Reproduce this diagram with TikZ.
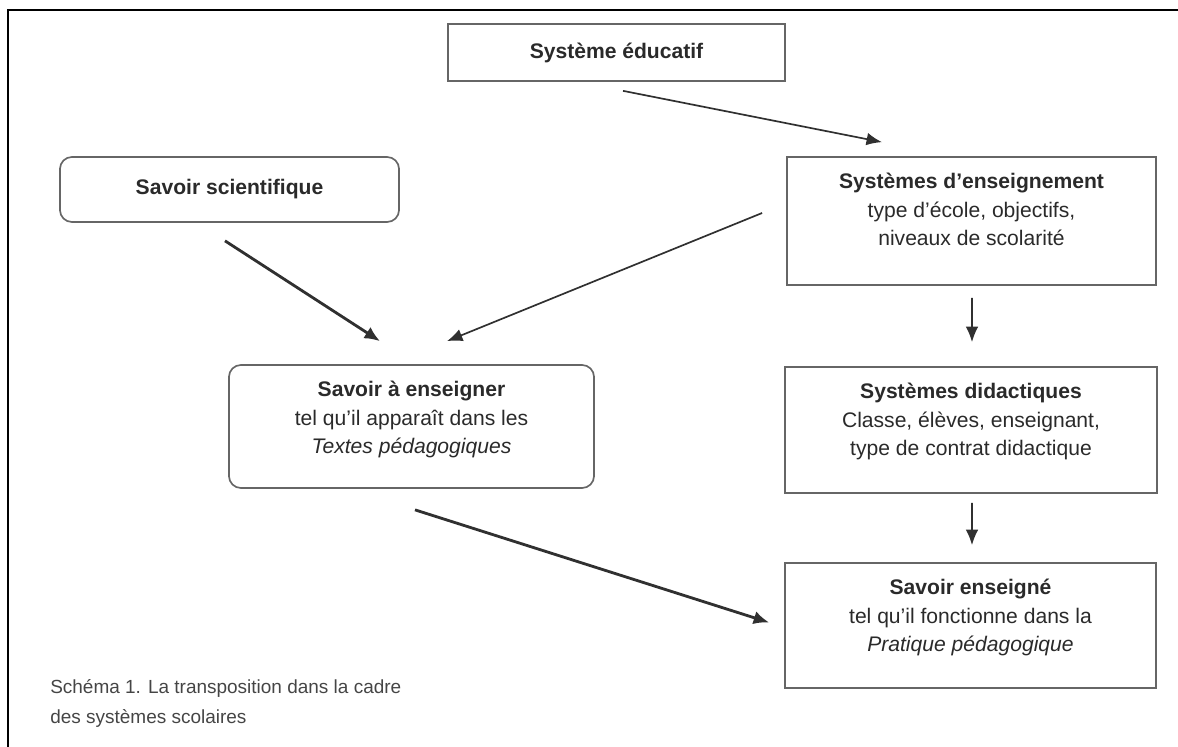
\documentclass[tikz,border=0pt]{standalone}
\usepackage{fontspec}
\setmainfont{Liberation Sans}
\usepackage{tikz}
\usetikzlibrary{arrows.meta,positioning}

\definecolor{boxline}{HTML}{666666}
\definecolor{inktext}{HTML}{2A2A2A}
\definecolor{captionink}{HTML}{454545}
\definecolor{arrowink}{HTML}{303030}

\tikzset{
  sqbox/.style={shape=rectangle,draw=boxline,line width=1.2pt,inner sep=0pt},
  rndbox/.style={sqbox,rounded corners=0.3cm},
  boxtext/.style={align=center,inner sep=0pt,text=inktext,font=\fontsize{15pt}{20pt}\selectfont},
  captiontext/.style={align=left,inner sep=0pt,text=captionink,font=\fontsize{13.5pt}{21.5pt}\selectfont},
  thinarrow/.style={draw=arrowink,line width=1.2pt,-{Latex[length=11pt,width=9pt]}},
  thickarrow/.style={draw=arrowink,line width=2pt,-{Latex[length=11pt,width=9.5pt]}}
}

\begin{document}
\begin{tikzpicture}[x=0.025cm,y=-0.025cm]
        \useasboundingbox (0,0) rectangle (1178,747);
        % frame
        \draw[line width=1.6pt] (1178,10) -- (8,10) -- (8,747);

        % boxes
        \node [sqbox,boxtext,minimum width=8.425cm,minimum height=1.425cm] (educ) at (616.5,52.5) {\bfseries Système éducatif};
        \node [rndbox,boxtext,minimum width=8.475cm,minimum height=1.625cm] (sci) at (229.5,189.5) {\bfseries Savoir scientifique};

        \node [sqbox,minimum width=9.225cm,minimum height=3.2cm] (ens) at (971.5,221) {};
        \node [boxtext,below=0.425cm of ens.north] (enstext) {\textbf{Systèmes d'enseignement}\\type d'école, objectifs,\\niveaux de scolarité};

        \node [sqbox,minimum width=9.3cm,minimum height=3.15cm] (did) at (971,430) {};
        \node [boxtext,below=0.425cm of did.north] (didtext) {\textbf{Systèmes didactiques}\\Classe, élèves, enseignant,\\type de contrat didactique};

        \node [sqbox,minimum width=9.275cm,minimum height=3.125cm] (taught) at (970.5,625.5) {};
        \node [boxtext,below=0.425cm of taught.north] (taughttext) {\textbf{Savoir enseigné}\\tel qu'il fonctionne dans la\\\textit{Pratique pédagogique}};

        \node [rndbox,minimum width=9.125cm,minimum height=3.075cm] (toteach) at (411.5,426.5) {};
        \node [boxtext,below=0.425cm of toteach.north] (toteachtext) {\textbf{Savoir à enseigner}\\tel qu'il apparaît dans les\\\textit{Textes pédagogiques}};

        % arrows
        \draw [thinarrow] ([shift={(6.5,9)}]educ.south) -- ([shift={(-89.5,-14)}]ens.north);
        \draw [thickarrow] ([shift={(-4.5,18)}]sci.south) -- ([shift={(-31.5,-23)}]toteach.north);
        \draw [thinarrow] ([shift={(-24,-8)}]ens.west) -- ([shift={(35.5,-23)}]toteach.north);
        \draw [thinarrow] ([shift={(0.5,12)}]ens.south) -- ([shift={(1,-24)}]did.north);
        \draw [thinarrow] ([shift={(1,9)}]did.south) -- ([shift={(1.5,-17)}]taught.north);
        \draw [thickarrow] ([shift={(3.5,21)}]toteach.south) -- ([shift={(-15,-3)}]taught.west);

        % caption
        \node [captiontext,anchor=north west] (caption) at (50,679) {Schéma 1. La transposition dans la cadre\\des systèmes scolaires};
    \end{tikzpicture}
\end{document}
